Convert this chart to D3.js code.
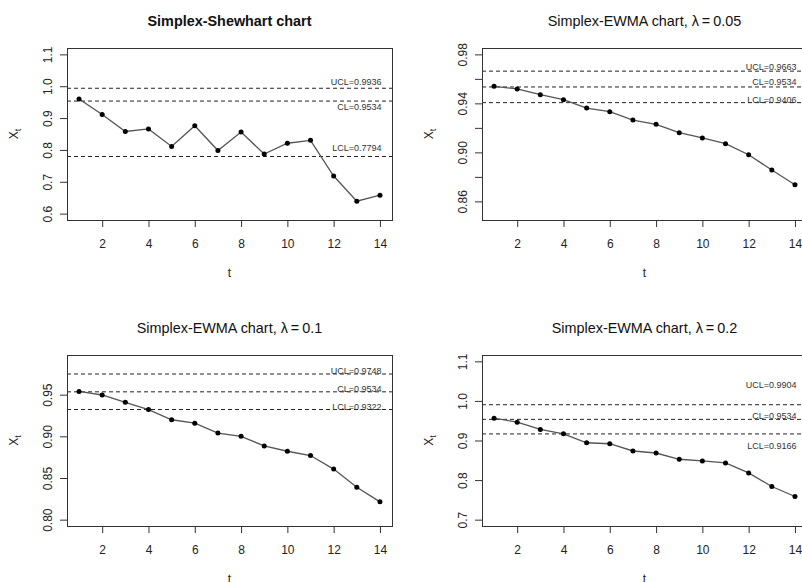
<!DOCTYPE html>
<meta charset="utf-8">

<head>
	<title>Simplex control charts</title>
	<script src="https://cdnjs.cloudflare.com/ajax/libs/d3/7.8.5/d3.min.js" charset="utf-8"></script>
</head>

<style type="text/css">

	body {
		font-family: "Liberation Sans", Arial, Helvetica, sans-serif;
		margin: 0;
		background: #fff;
	}

	svg {
		display: block;
	}

	.box {
		fill: none;
		stroke: #333;
		stroke-width: 1px;
	}

	.limit {
		stroke: #222;
		stroke-width: 1px;
		stroke-dasharray: 4,3;
	}

	.series {
		fill: none;
		stroke: #555;
		stroke-width: 1.3px;
	}

	.dot {
		fill: #000;
	}

	.axis text {
		font-family: "Liberation Sans", Arial, sans-serif;
		font-size: 12px;
		fill: #222;
	}

	.axis line {
		stroke: #333;
	}

	.limitLabel {
		font-size: 9px;
		fill: #333;
	}

</style>

<body>

	<script>

		var width = 802,
			height = 582;

		// sample index
		var t = [1, 2, 3, 4, 5, 6, 7, 8, 9, 10, 11, 12, 13, 14];

		// values
		var shewhart = [0.960, 0.911, 0.858, 0.866, 0.811, 0.876, 0.798, 0.856, 0.787, 0.821, 0.830, 0.718, 0.639, 0.658];
		var ewma005  = [0.9539, 0.9518, 0.9471, 0.9430, 0.9362, 0.9332, 0.9264, 0.9229, 0.9161, 0.9118, 0.9071, 0.8981, 0.8856, 0.8736];
		var ewma01   = [0.9539, 0.9496, 0.9408, 0.9321, 0.9199, 0.9158, 0.9039, 0.9000, 0.8885, 0.8821, 0.8770, 0.8607, 0.8389, 0.8214];
		var ewma02   = [0.9565, 0.9464, 0.9280, 0.9170, 0.8943, 0.8918, 0.8735, 0.8684, 0.8526, 0.8483, 0.8433, 0.8181, 0.7837, 0.7585];

		// control limits [UCL, CL, LCL]
		var limitNames = ["UCL", "CL", "LCL"];
		var limitsShewhart = [0.9936, 0.9534, 0.7794];
		var limits005 = [0.9663, 0.9534, 0.9406];
		var limits01  = [0.9748, 0.9534, 0.9322];
		var limits02  = [0.9904, 0.9534, 0.9166];

		// y ranges and ticks
		var ylimShewhart = [0.6, 1.1],  yticksShewhart = [0.6, 0.7, 0.8, 0.9, 1.0, 1.1];
		var ylim005 = [0.85, 0.98],     yticks005 = [0.86, 0.88, 0.90, 0.92, 0.94, 0.96, 0.98];
		var ylim01  = [0.80, 0.99],     yticks01  = [0.80, 0.85, 0.90, 0.95];
		var ylim02  = [0.7, 1.1],       yticks02  = [0.7, 0.8, 0.9, 1.0, 1.1];
		var xticks = [2, 4, 6, 8, 10, 12, 14];

		var panels = [
			{ title: "Simplex-Shewhart chart", bold: true, values: shewhart, limits: limitsShewhart,
			  ylim: ylimShewhart, yticks: yticksShewhart, digits: 1, hide: [],
			  box: [67, 48, 392, 220], labelDy: [-6, 6, -8] },
			{ title: "Simplex-EWMA chart, ", lambda: "0.05", values: ewma005, limits: limits005,
			  ylim: ylim005, yticks: yticks005, digits: 2, hide: [0.88, 0.92, 0.96],
			  box: [482, 48, 807, 220], labelDy: [-4.5, -4.5, -3] },
			{ title: "Simplex-EWMA chart, ", lambda: "0.1", values: ewma01, limits: limits01,
			  ylim: ylim01, yticks: yticks01, digits: 2, hide: [],
			  box: [67, 355, 392, 526], labelDy: [-3, -3, -3] },
			{ title: "Simplex-EWMA chart, ", lambda: "0.2", values: ewma02, limits: limits02,
			  ylim: ylim02, yticks: yticks02, digits: 1, hide: [],
			  box: [482, 355, 807, 526], labelDy: [-19.5, -3, 12] }
		];

		var svg = d3.select("body").append("svg")
			.attr("width", width)
			.attr("height", height);

		panels.forEach(function(p) {
			var x0 = p.box[0], y0 = p.box[1], x1 = p.box[2], y1 = p.box[3];

			// R style 4% extension of the axis ranges
			var xr = (t[t.length - 1] - t[0]) * 0.04,
				yr = (p.ylim[1] - p.ylim[0]) * 0.04;

			var x = d3.scaleLinear()
				.domain([t[0] - xr, t[t.length - 1] + xr])
				.range([x0, x1]);

			var y = d3.scaleLinear()
				.domain([p.ylim[0] - yr, p.ylim[1] + yr])
				.range([y1, y0]);

			var g = svg.append("g");

			// limit lines
			g.selectAll(".limit")
				.data(p.limits)
			 .enter().append("line")
				.attr("class", "limit")
				.attr("x1", x0)
				.attr("x2", x1)
				.attr("y1", function(d) { return y(d); })
				.attr("y2", function(d) { return y(d); });

			g.selectAll(".limitLabel")
				.data(p.limits)
			 .enter().append("text")
				.attr("class", "limitLabel")
				.attr("text-anchor", "end")
				.attr("dominant-baseline", "central")
				.attr("x", x(14) + 1.5)
				.attr("y", function(d, i) { return y(d) + p.labelDy[i]; })
				.text(function(d, i) { return limitNames[i] + "=" + d3.format(".4f")(d); });

			// series
			var pts = t.map(function(d, i) { return [d, p.values[i]]; });

			g.append("path")
				.datum(pts)
				.attr("class", "series")
				.attr("d", d3.line()
					.x(function(d) { return x(d[0]); })
					.y(function(d) { return y(d[1]); }));

			g.selectAll(".dot")
				.data(pts)
			 .enter().append("circle")
				.attr("class", "dot")
				.attr("r", 2.5)
				.attr("cx", function(d) { return x(d[0]); })
				.attr("cy", function(d) { return y(d[1]); });

			// axes
			var xAxis = g.append("g")
				.attr("class", "axis")
				.attr("transform", "translate(0," + y1 + ")")
				.call(d3.axisBottom(x).tickValues(xticks).tickSize(7).tickPadding(12.5).tickFormat(d3.format("d")));
			xAxis.select(".domain").remove();

			var fmt = d3.format("." + p.digits + "f");
			var yAxis = g.append("g")
				.attr("class", "axis")
				.attr("transform", "translate(" + x0 + ",0)")
				.call(d3.axisLeft(y).tickValues(p.yticks).tickSize(7)
					.tickFormat(function(d) { return p.hide.indexOf(d) >= 0 ? "" : fmt(d); }));
			yAxis.select(".domain").remove();
			yAxis.selectAll("text")
				.attr("x", null)
				.attr("dy", null)
				.attr("text-anchor", "middle")
				.attr("transform", "translate(-15.5,0) rotate(-90)");

			g.append("rect")
				.attr("class", "box")
				.attr("x", x0 + 0.5)
				.attr("y", y0 + 0.5)
				.attr("width", x1 - x0)
				.attr("height", y1 - y0);

			// titles and axis labels
			var cx = (x0 + x1) / 2;
			var title = g.append("text")
				.attr("x", cx)
				.attr("y", y0 - 22.5)
				.attr("text-anchor", "middle")
				.style("font-size", "14.4px")
				.style("font-weight", p.bold ? "bold" : "normal")
				.style("fill", "#111")
				.text(p.title);
			if (p.lambda) {
				title.append("tspan").text("\u03bb");
				title.append("tspan").attr("dx", 3).text("=");
				title.append("tspan").attr("dx", 3).text(p.lambda);
			}

			g.append("text")
				.attr("x", cx)
				.attr("y", y1 + 57)
				.attr("text-anchor", "middle")
				.style("font-size", "12px")
				.style("fill", "#222")
				.text("t");

			var ylab = g.append("text")
				.attr("text-anchor", "middle")
				.attr("transform", "translate(" + (x0 - 49) + "," + ((y0 + y1) / 2) + ") rotate(-90)")
				.style("font-size", "12px")
				.style("fill", "#222");
			ylab.append("tspan").text("X");
			ylab.append("tspan").attr("dy", 3).style("font-size", "9px").text("t");
		});

	</script>

</body>
